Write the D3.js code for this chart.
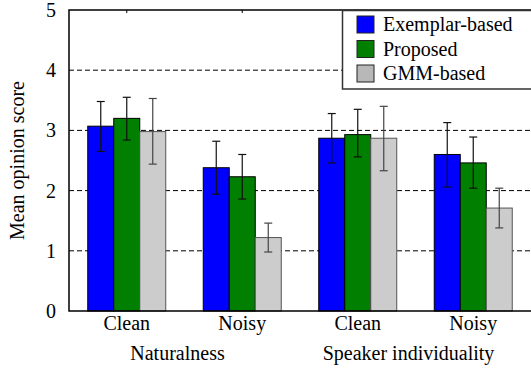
<!DOCTYPE html>
<html>
<head>
<meta charset="utf-8">
<script src="https://cdn.jsdelivr.net/npm/d3@7"></script>
</head>
<body style="margin:0;padding:0;background:#fff">
<div id="chart"></div>
<script>
// data
const groups = ['Clean|Nat', 'Noisy|Nat', 'Clean|SI', 'Noisy|SI'];
const groupLabels = ['Clean', 'Noisy', 'Clean', 'Noisy'];
const series = ['Exemplar-based', 'Proposed', 'GMM-based'];
const exemplarMean = [3.07, 2.38, 2.87, 2.60];
const exemplarLo = [2.65, 1.94, 2.46, 2.06];
const exemplarHi = [3.48, 2.82, 3.28, 3.13];
const proposedMean = [3.20, 2.23, 2.93, 2.46];
const proposedLo = [2.84, 1.86, 2.56, 2.04];
const proposedHi = [3.55, 2.60, 3.35, 2.89];
const gmmMean = [2.98, 1.22, 2.87, 1.71];
const gmmLo = [2.44, 0.98, 2.33, 1.38];
const gmmHi = [3.53, 1.46, 3.40, 2.04];
const yTicks = [0, 1, 2, 3, 4, 5];
const categoryLabels = ['Naturalness', 'Speaker individuality'];

const colors = { 'Exemplar-based': '#0000ff', 'Proposed': '#007f00', 'GMM-based': '#cccccc' };
const legendColors = { 'Exemplar-based': '#0000ff', 'Proposed': '#007f00', 'GMM-based': '#b8b8b8' };
const FONT = '"Liberation Serif"';

const table = [
  { s: 'Exemplar-based', mean: exemplarMean, lo: exemplarLo, hi: exemplarHi },
  { s: 'Proposed', mean: proposedMean, lo: proposedLo, hi: proposedHi },
  { s: 'GMM-based', mean: gmmMean, lo: gmmLo, hi: gmmHi },
];
const rows = [];
table.forEach(t => groups.forEach((g, i) => rows.push({ s: t.s, g: g, v: t.mean[i], lo: t.lo[i], hi: t.hi[i] })));

const width = 531, height = 369;
const margin = { top: 10, right: 0, bottom: 58, left: 69 };

const svg = d3.select('#chart').append('svg')
  .attr('width', width)
  .attr('height', height)
  .style('display', 'block');

const x0 = d3.scaleBand().domain(groups).range([margin.left, width]).padding(0);
const bw = x0.bandwidth();
const x1 = d3.scaleBand().domain(series).range([bw / 2 - 39, bw / 2 + 39]).padding(0);
const y = d3.scaleLinear().domain([0, 5]).range([height - margin.bottom, margin.top]);

// dashed grid
svg.append('g')
  .selectAll('line')
  .data(yTicks.filter(d => d > 0 && d < 5))
  .enter().append('line')
  .attr('x1', margin.left).attr('x2', width)
  .attr('y1', d => y(d)).attr('y2', d => y(d))
  .attr('stroke', '#000')
  .attr('stroke-width', 1)
  .attr('stroke-dasharray', '5,3');

// bars
svg.append('g')
  .selectAll('rect')
  .data(rows)
  .enter().append('rect')
  .attr('x', d => x0(d.g) + x1(d.s))
  .attr('y', d => y(d.v))
  .attr('width', x1.bandwidth())
  .attr('height', d => y(0) - y(d.v))
  .attr('fill', d => colors[d.s])
  .attr('stroke', d => d.s === 'GMM-based' ? '#555' : '#000')
  .attr('stroke-width', 1);

// error bars
const err = svg.append('g')
  .selectAll('g')
  .data(rows)
  .enter().append('g')
  .attr('stroke', d => d.s === 'GMM-based' ? '#444' : '#111')
  .attr('stroke-width', 1.2);
const cx = d => x0(d.g) + x1(d.s) + x1.bandwidth() / 2;
err.append('line')
  .attr('x1', cx).attr('x2', cx)
  .attr('y1', d => y(d.lo)).attr('y2', d => y(d.hi));
err.append('line')
  .attr('x1', d => cx(d) - 4).attr('x2', d => cx(d) + 4)
  .attr('y1', d => y(d.lo)).attr('y2', d => y(d.lo));
err.append('line')
  .attr('x1', d => cx(d) - 4).attr('x2', d => cx(d) + 4)
  .attr('y1', d => y(d.hi)).attr('y2', d => y(d.hi));

// frame
svg.append('path')
  .attr('d', `M${width},${margin.top}H${margin.left}V${y(0)}H${width}`)
  .attr('fill', 'none')
  .attr('stroke', '#000')
  .attr('stroke-width', 1.5);

// top ticks at group centres
svg.append('g')
  .selectAll('line')
  .data(groups)
  .enter().append('line')
  .attr('x1', d => x0(d) + bw / 2).attr('x2', d => x0(d) + bw / 2)
  .attr('y1', margin.top).attr('y2', margin.top + 3)
  .attr('stroke', '#000');

// y axis
const yAxis = svg.append('g')
  .attr('transform', `translate(${margin.left},0)`)
  .call(d3.axisLeft(y).tickValues(yTicks).tickSize(0).tickPadding(13).tickFormat(d3.format('d')));
yAxis.select('.domain').remove();
yAxis.attr('font-family', null).attr('font-size', null);
yAxis.selectAll('text').style('font-family', FONT).style('font-size', '20px').attr('fill', '#000');

// x axis
const xAxis = svg.append('g')
  .attr('transform', `translate(0,${y(0)})`)
  .call(d3.axisBottom(x0).tickSize(0).tickPadding(5).tickFormat((d, i) => groupLabels[i]));
xAxis.select('.domain').remove();
xAxis.attr('font-family', null).attr('font-size', null);
xAxis.selectAll('text').style('font-family', FONT).style('font-size', '20px').attr('fill', '#000');

// category labels
svg.append('g')
  .selectAll('text')
  .data(categoryLabels)
  .enter().append('text')
  .attr('x', (d, i) => (x0(groups[i * 2]) + x0(groups[i * 2 + 1]) + bw) / 2 - 7)
  .attr('y', 360)
  .attr('text-anchor', 'middle')
  .style('font-family', FONT)
  .style('font-size', '20px')
  .text(d => d);

// y label
svg.append('text')
  .attr('transform', `translate(24,${(margin.top + y(0)) / 2}) rotate(-90)`)
  .attr('text-anchor', 'middle')
  .style('font-family', FONT)
  .style('font-size', '20px')
  .text('Mean opinion score');

// legend
const legend = svg.append('g');
legend.append('rect')
  .attr('x', 342.5).attr('y', 10.5)
  .attr('width', 200).attr('height', 78.5)
  .attr('fill', '#fff')
  .attr('stroke', '#333')
  .attr('stroke-width', 1.5);
const li = legend.selectAll('g.item')
  .data(series)
  .enter().append('g')
  .attr('class', 'item')
  .attr('transform', (d, i) => `translate(357,${16 + i * 24.5})`);
li.append('rect')
  .attr('width', 17).attr('height', 17)
  .attr('fill', d => legendColors[d])
  .attr('stroke', '#222')
  .attr('stroke-width', 1);
li.append('text')
  .attr('x', 26).attr('y', 15)
  .style('font-family', FONT)
  .style('font-size', '20px')
  .text(d => d);
</script>
</body>
</html>
